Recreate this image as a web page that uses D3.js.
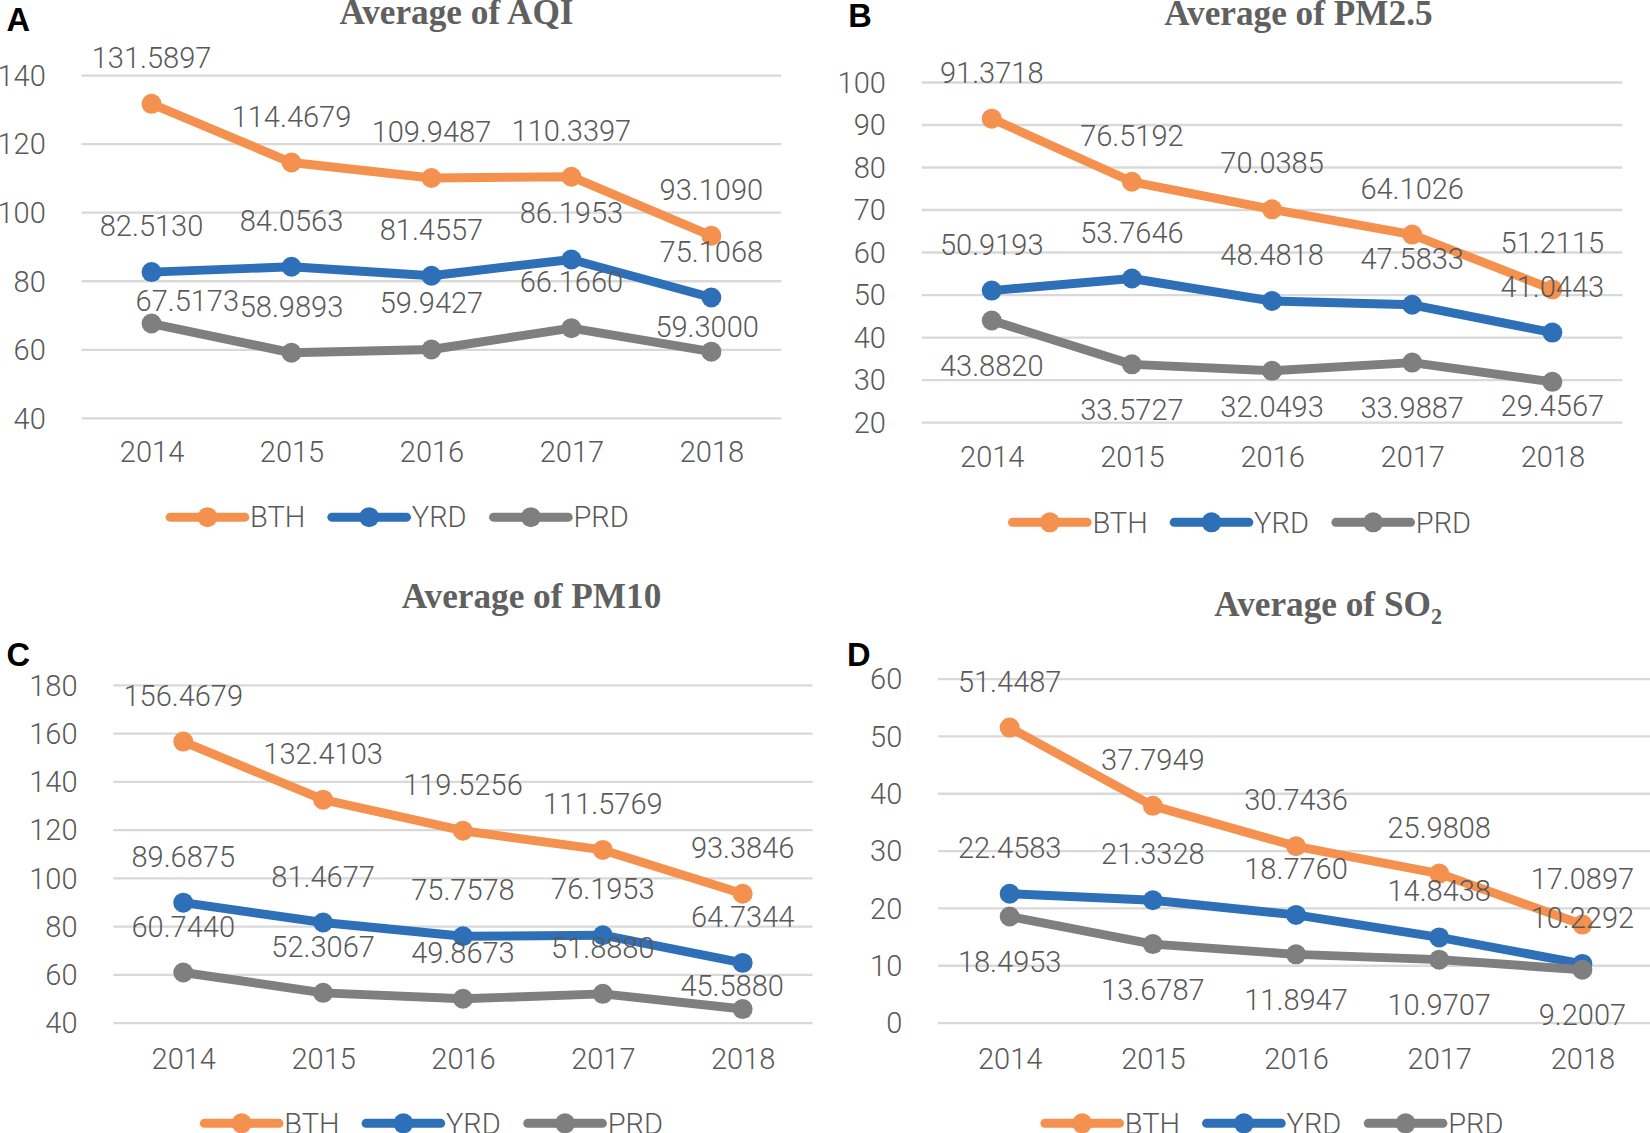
<!DOCTYPE html>
<html>
<head>
<meta charset="utf-8">
<script src="https://cdn.jsdelivr.net/npm/d3@7/dist/d3.min.js"></script>
<style>
  body { margin: 0; background: #fff; }
  svg { display: block; }
</style>
</head>
<body>
<svg id="chart" width="1650" height="1133" viewBox="0 0 1568 1077"></svg>
<script>
// ---------------- DATA ----------------
const years = ["2014", "2015", "2016", "2017", "2018"];
const seriesNames = ["BTH", "YRD", "PRD"];

const aqiBTH = [131.5897, 114.4679, 109.9487, 110.3397, 93.1090];
const aqiYRD = [82.5130, 84.0563, 81.4557, 86.1953, 75.1068];
const aqiPRD = [67.5173, 58.9893, 59.9427, 66.1660, 59.3000];

const pm25BTH = [91.3718, 76.5192, 70.0385, 64.1026, 51.2115];
const pm25YRD = [50.9193, 53.7646, 48.4818, 47.5833, 41.0443];
const pm25PRD = [43.8820, 33.5727, 32.0493, 33.9887, 29.4567];

const pm10BTH = [156.4679, 132.4103, 119.5256, 111.5769, 93.3846];
const pm10YRD = [89.6875, 81.4677, 75.7578, 76.1953, 64.7344];
const pm10PRD = [60.7440, 52.3067, 49.8673, 51.8880, 45.5880];

const so2BTH = [51.4487, 37.7949, 30.7436, 25.9808, 17.0897];
const so2YRD = [22.4583, 21.3328, 18.7760, 14.8438, 10.2292];
const so2PRD = [18.4953, 13.6787, 11.8947, 10.9707, 9.2007];

const aqiTicks = [40, 60, 80, 100, 120, 140];
const pm25Ticks = [20, 30, 40, 50, 60, 70, 80, 90, 100];
const pm10Ticks = [40, 60, 80, 100, 120, 140, 160, 180];
const so2Ticks = [0, 10, 20, 30, 40, 50, 60];

// ---------------- STYLE / LAYOUT ----------------
const colors = { BTH: "#F5914F", YRD: "#2E70B8", PRD: "#7F7F80" };
const textColor = "#595959";
const gridColor = "#D9D9D9";
const labelFont = "Roboto, 'Liberation Sans', Arial, sans-serif";
const fs = 27.6;

const panels = [
  { letter: "A", title: ["Average of AQI"], series: { BTH: aqiBTH, YRD: aqiYRD, PRD: aqiPRD }, ticks: aqiTicks,
    L: { left: 77.3, right: 742.5, top: 71.3, bottom: 397.2, titleX: 433.7, titleY: 23, letterX: 6, letterY: 29.5, yearY: 429, legendX: 161.5, legendY: 491.6 },
    place: { BTH: -44, YRD: -44, PRD: -44 },
    adjust: { "PRD-2014": [34, -22], "PRD-2018": [-4, -24] } },
  { letter: "B", title: ["Average of PM2.5"], series: { BTH: pm25BTH, YRD: pm25YRD, PRD: pm25PRD }, ticks: pm25Ticks,
    L: { left: 875.9, right: 1542, top: 77.9, bottom: 401.2, titleX: 1234, titleY: 23.7, letterX: 806, letterY: 26, yearY: 434, legendX: 962.2, legendY: 496.5 },
    place: { BTH: -44, YRD: -44, PRD: 43 },
    adjust: { "PRD-2016": [0, 34], "PRD-2018": [0, 23] } },
  { letter: "C", title: ["Average of PM10"], series: { BTH: pm10BTH, YRD: pm10YRD, PRD: pm10PRD }, ticks: pm10Ticks,
    L: { left: 107.5, right: 772.2, top: 651, bottom: 972, titleX: 505, titleY: 577.5, letterX: 6, letterY: 633, yearY: 1006, legendX: 194, legendY: 1067.8 },
    place: { BTH: -44, YRD: -44, PRD: -44 },
    adjust: { "PRD-2018": [-10, -22] } },
  { letter: "D", title: ["Average of SO", "2"], series: { BTH: so2BTH, YRD: so2YRD, PRD: so2PRD }, ticks: so2Ticks,
    L: { left: 891.5, right: 1572, top: 645, bottom: 972, titleX: 1262.3, titleY: 586, letterX: 805, letterY: 633, yearY: 1006, legendX: 993, legendY: 1067.8 },
    place: { BTH: -44, YRD: -44, PRD: 43 },
    adjust: {} }
];

const svg = d3.select("#chart");
const fmt = d3.format(".4f");

panels.forEach(p => {
  const L = p.L;
  const g = svg.append("g");
  const x = d3.scalePoint().domain(years).range([L.left, L.right]).padding(0.5);
  const y = d3.scaleLinear().domain(d3.extent(p.ticks)).range([L.bottom, L.top]);

  // gridlines
  const grid = g.append("g").attr("transform", `translate(${L.left},0)`)
    .call(d3.axisLeft(y).tickValues(p.ticks).tickSize(-(L.right - L.left)).tickFormat(""));
  grid.select(".domain").remove();
  grid.selectAll("line").attr("stroke", gridColor).attr("stroke-width", 2.2);

  // y tick labels
  const yAx = g.append("g").attr("transform", `translate(${L.left},0)`)
    .call(d3.axisLeft(y).tickValues(p.ticks).tickSize(0).tickPadding(34));
  yAx.select(".domain").remove();
  yAx.selectAll("text").attr("dy", "0.355em").attr("fill", textColor)
    .style("font-family", labelFont).style("font-weight", 300).style("font-size", fs + "px");

  // x labels
  const xAx = g.append("g").attr("transform", `translate(0,${L.yearY})`)
    .call(d3.axisBottom(x).tickSize(0).tickPadding(0));
  xAx.select(".domain").remove();
  xAx.selectAll("text").attr("y", 0).attr("dy", "0.355em").attr("fill", textColor)
    .style("font-family", labelFont).style("font-weight", 300).style("font-size", fs + "px");

  // lines + markers
  const line = d3.line().x((d, i) => x(years[i])).y(d => y(d));
  seriesNames.forEach(s => {
    const vals = p.series[s];
    g.append("path").datum(vals).attr("d", line).attr("fill", "none")
      .attr("stroke", colors[s]).attr("stroke-width", 8.5)
      .attr("stroke-linejoin", "round").attr("stroke-linecap", "round");
    g.selectAll(null).data(vals).enter().append("circle")
      .attr("cx", (d, i) => x(years[i])).attr("cy", d => y(d)).attr("r", 9.5)
      .attr("fill", colors[s]);
  });

  // data labels
  seriesNames.forEach(s => {
    const vals = p.series[s];
    g.selectAll(null).data(vals).enter().append("text")
      .attr("x", (d, i) => x(years[i]) + ((p.adjust[s + "-" + years[i]] || [0, p.place[s]])[0]))
      .attr("y", (d, i) => y(d) + ((p.adjust[s + "-" + years[i]] || [0, p.place[s]])[1]))
      .attr("dy", "0.355em").attr("text-anchor", "middle").attr("fill", textColor)
      .style("font-family", labelFont).style("font-weight", 300).style("font-size", fs + "px")
      .text(d => fmt(d));
  });

  // legend
  seriesNames.forEach((s, i) => {
    const lg = g.append("g").attr("transform", `translate(${L.legendX + i * 153.7},${L.legendY})`);
    lg.append("line").attr("x1", 0).attr("x2", 71).attr("y1", 0).attr("y2", 0)
      .attr("stroke", colors[s]).attr("stroke-width", 8.5).attr("stroke-linecap", "round");
    lg.append("circle").attr("cx", 35.5).attr("cy", 0).attr("r", 9.5).attr("fill", colors[s]);
    lg.append("text").attr("x", 76).attr("y", 0).attr("dy", "0.355em").attr("fill", textColor)
      .style("font-family", labelFont).style("font-weight", 300).style("font-size", fs + "px")
      .text(s);
  });

  // title
  const t = g.append("text").attr("x", L.titleX).attr("y", L.titleY).attr("text-anchor", "middle")
    .attr("fill", "#606060").style("font-family", "'Liberation Serif', 'Times New Roman', serif")
    .style("font-weight", "bold").style("font-size", "33.5px");
  t.append("tspan").text(p.title[0]);
  if (p.title[1]) t.append("tspan").attr("dy", 7).style("font-size", "21px").text(p.title[1]);

  // panel letter
  g.append("text").attr("x", L.letterX).attr("y", L.letterY).attr("fill", "#000")
    .style("font-family", "'Liberation Sans', Arial, sans-serif").style("font-weight", "bold")
    .style("font-size", "31px").text(p.letter);
});
</script>
</body>
</html>
